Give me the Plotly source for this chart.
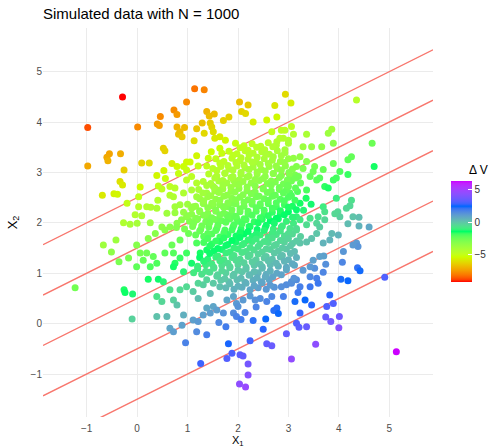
import numpy as np
import plotly.graph_objects as go

# ---------------- data ----------------
# upper-left region (orange / yellow points)
ul_x1 = [-0.29,-0.98,0.01,1.14,1.33,0.98,0.73,0.79,0.46,0.40,
         0.44,0.79,0.94,0.82,1.38,1.43,1.53,1.29,1.18,1.45,
         1.48,1.51,1.33,1.71,1.82,1.13,1.64,1.75,1.54,2.03,
         0.52,0.55,-0.55,-0.60,-0.58,-0.33,-0.98,-0.26,-0.34,-0.29,
         -0.69,-0.46,-0.39,0.09,0.24,0.39,0.56,0.53,0.06,0.03,
         -0.20,0.03,0.19,0.27,0.39,-0.04,0.09,-0.27,-0.14,0.00,
         0.26,0.41,0.42,0.49,0.65,0.75,0.65,0.72,0.59,0.75,
         0.79,0.49,0.65,0.75,0.85,0.98,1.05,1.18,1.21,1.38,
         1.41,0.79,0.92,0.82,0.98,1.47,1.64,1.68,0.98,1.08,
         1.18,1.31,0.92,1.08,1.18,1.38,1.51,1.64,1.78,1.91,
         1.11,1.31,1.51,1.71,1.91,0.98,1.18,1.38,1.58,1.78,1.97]
ul_x2 = [4.50,3.89,3.90,4.66,4.64,4.40,4.24,4.15,4.11,3.96,
         3.93,3.90,3.89,3.76,4.21,4.12,4.16,3.98,3.87,3.98,
         3.90,3.81,3.78,4.03,4.10,3.63,3.71,3.64,3.68,4.40,
         3.48,3.43,3.37,3.30,3.23,3.37,3.13,3.05,2.82,2.75,
         2.55,2.58,2.57,3.19,3.19,2.94,2.88,3.04,2.71,2.52,
         2.39,2.32,2.32,2.31,2.29,2.16,2.14,2.00,1.97,1.99,
         2.00,2.45,2.73,2.67,2.72,2.69,2.55,2.52,2.19,2.20,
         1.99,1.92,1.92,2.32,2.36,3.21,3.21,3.33,3.13,3.13,
         3.28,3.12,3.12,2.98,3.05,3.41,3.48,3.38,2.85,2.92,
         2.79,2.82,2.59,2.65,2.52,2.59,2.72,2.65,2.79,2.85,
         2.32,2.39,2.36,2.32,2.39,2.12,2.06,2.12,2.06,2.16,2.09]
ul_dv = [-9.23,-8.7,-7.8,-8.2,-7.9,-7.8,-7.75,-7.5,-7.8,-7.5,
         -7.4,-7.0,-6.85,-6.7,-7.0,-6.8,-6.8,-6.7,-6.6,-6.5,
         -6.3,-6.1,-6.2,-6.35,-6.4,-6.1,-5.8,-5.5,-5.8,-6.8,
         -6.4,-6.3,-7.3,-7.2,-7.0,-7.1,-7.2,-6.4,-6.0,-5.8,
         -5.8,-5.6,-5.5,-6.3,-6.1,-5.5,-5.2,-5.5,-5.4,-5.0,
         -5.0,-4.6,-4.4,-4.35,-4.2,-4.4,-4.2,-4.3,-4.1,-4.0,
         -3.7,-4.5,-5.0,-4.85,-4.8,-4.6,-4.45,-4.3,-3.8,-3.65,
         -3.2,-3.35,-3.2,-3.9,-3.85,-5.45,-5.4,-5.5,-5.0,-4.9,
         -5.15,-5.45,-5.3,-5.1,-5.1,-5.35,-5.3,-5.1,-4.7,-4.75,
         -4.4,-4.35,-4.25,-4.2,-3.85,-3.8,-3.95,-3.65,-3.8,-3.8,
         -3.5,-3.45,-3.2,-2.95,-2.85,-3.3,-2.95,-2.85,-2.55,-2.55,-2.2]

# lower-left region (green / teal / blue points)
ll_x1 = [-1.23,-0.67,-0.51,-0.42,-0.36,-0.26,-0.24,-0.09,-0.10,-0.17,
         -0.01,0.06,-0.01,0.22,0.36,0.55,0.19,0.32,0.39,0.55,
         0.72,0.75,0.26,0.12,0.22,0.42,0.52,0.72,0.92,0.85,
         0.98,1.08,0.69,0.85,1.02,1.18,1.25,1.38,0.39,0.49,
         0.65,0.72,0.79,0.39,0.59,0.92,0.85,0.98,1.11,1.21,
         1.31,1.21,0.65,0.72,0.89,1.11,1.21,1.31,1.18,1.38,
         0.96,1.26,1.51,1.58,1.71,1.45,1.38,1.51,1.64,1.76,
         1.81,1.88,1.78,2.04,2.03,1.91,1.97,1.78,1.91,1.97]
ll_x2 = [0.71,1.56,1.42,1.66,1.23,0.67,0.62,0.59,0.09,1.30,
         1.13,1.40,1.56,1.69,1.79,1.86,1.40,1.33,1.20,1.40,
         1.40,1.20,1.13,1.26,0.88,0.88,0.83,1.13,1.03,1.30,
         1.40,1.20,1.56,1.66,1.79,1.60,1.40,1.46,0.54,0.44,
         0.67,0.47,0.37,0.14,0.14,0.17,0.67,0.73,0.64,0.50,
         0.77,0.80,-0.09,-0.16,-0.03,0.07,0.04,0.17,-0.16,-0.22,
         -0.38,-0.79,0.34,0.27,0.21,0.60,0.87,0.80,0.73,-0.06,
         -0.40,-0.59,-0.69,-0.62,-1.20,0.54,0.40,0.47,0.21,0.14]
ll_dv = [-2.65,-3.8,-3.35,-3.75,-2.8,-1.6,-1.5,-1.25,-0.3,-2.8,
         -2.25,-2.75,-3.1,-3.15,-3.2,-3.2,-2.6,-2.35,-2.0,-2.25,
         -2.1,-1.65,-2.0,-2.4,-1.55,-1.35,-1.15,-1.55,-1.15,-1.75,
         -1.8,-1.3,-2.45,-2.45,-2.55,-2.0,-1.55,-1.55,-0.7,-0.4,
         -0.7,-0.25,0.05,0.1,0.3,0.6,-0.5,-0.5,-0.15,0.2,
         -0.2,-0.4,0.85,1.05,0.95,1.0,1.15,1.0,1.5,1.85,
         1.75,2.85,0.85,1.05,1.3,0.25,-0.35,-0.1,0.15,1.9,
         2.6,3.05,3.15,3.3,4.45,0.85,1.15,0.85,1.5,1.7]

# lower-right region (blue / purple points)
lr_x1 = [5.14,4.91,3.99,3.86,4.35,4.38,4.28,4.09,4.07,3.70,
         3.74,3.69,4.37,4.42,4.04,4.18,3.82,3.52,3.56,3.59,
         3.43,3.43,3.16,3.23,3.19,3.13,3.06,2.77,2.71,2.55,
         2.50,3.16,3.21,3.36,3.74,3.84,4.01,4.00,2.96,3.54,
         3.06,2.57,2.67,2.24,2.10,2.20,2.20,2.15,2.90,2.86,
         2.96,3.06,3.11,2.69,2.77,2.86,2.96,2.67,2.57,2.44,
         2.34,2.24,2.10,2.00,1.38,1.45,3.56,3.46,3.36,3.23,
         3.62,3.49,3.43,3.29,3.82,3.69,3.33,3.46,3.23,3.76,
         3.89,2.14,2.30,2.06,2.36,1.62,0.69,0.85,0.89,2.80]
lr_x2 = [-0.56,0.92,1.76,1.79,1.60,1.53,1.56,1.43,1.22,1.34,
         1.18,1.02,1.11,1.05,0.88,0.85,0.57,1.10,0.90,0.80,
         0.93,0.73,0.87,0.73,0.62,0.44,0.80,0.31,0.26,0.09,
         -0.11,0.01,-0.07,-0.06,0.13,0.04,0.14,-0.08,-0.20,-0.41,
         -0.70,-0.40,-0.44,-0.34,-0.64,-0.80,-1.02,-1.26,0.54,0.73,
         0.77,0.83,0.90,0.93,1.00,0.97,1.07,0.54,0.44,0.50,
         0.47,0.55,0.47,0.34,0.31,0.21,1.79,1.69,1.62,1.60,
         1.33,1.26,1.13,1.06,1.66,1.60,0.47,0.37,0.21,0.34,
         0.40,0.22,0.06,0.08,0.33,0.02,3.18,3.81,3.71,0.20]
lr_dv = [6.36,3.1,0.5,0.3,1.15,1.3,1.15,1.25,1.65,1.0,
         1.4,1.65,2.15,2.35,2.3,2.5,2.7,1.4,1.8,2.0,
         1.6,2.0,1.5,1.8,2.0,2.3,1.5,2.2,2.2,2.4,
         2.7,3.1,3.3,3.5,3.5,3.8,3.7,4.2,3.4,4.4,
         4.5,3.4,3.55,2.9,3.4,3.8,4.2,4.7,1.8,1.4,
         1.45,1.4,1.3,0.85,0.8,0.9,0.8,1.6,1.7,1.45,
         1.4,1.15,1.15,1.3,0.75,1.05,0.0,0.1,0.1,0.05,
         0.95,0.95,1.15,1.15,0.5,0.5,2.4,2.7,2.8,3.1,
         3.1,1.7,2.18,1.9,1.7,1.58,-5.7,-6.8,-6.55,2.4]

# upper-right region (yellow-green / green points)
ur_x1 = [2.94,3.05,2.73,2.77,2.20,2.07,2.15,2.57,2.30,4.35,
         4.66,4.70,3.89,3.86,3.79,3.66,3.36,3.29,3.46,3.06,
         3.10,2.93,3.00,3.23,3.36,3.29,3.89,3.69,3.52,3.49,
         3.43,3.56,3.62,3.72,3.79,3.89,3.95,4.02,4.18,4.25,
         4.18,3.36,3.35,3.23,3.13,3.03,2.96,3.95,4.25,4.22,
         4.15,4.28,3.98,4.02,3.92,4.40,4.40,4.60,4.18,3.69,
         3.72,3.59,3.72,3.56,3.62,3.43,3.36,3.16,3.23,3.10,
         3.03,3.16,2.67,2.86,2.90,3.00,2.83,2.77,2.93,3.10,
         3.16,3.13,3.03,3.00]
ur_x2 = [4.55,4.38,4.33,4.10,4.34,4.21,4.17,4.04,4.00,4.44,
         3.58,3.12,3.58,3.86,3.78,3.51,3.76,3.51,3.51,3.91,
         3.76,3.84,3.64,3.31,3.22,3.08,3.18,3.06,3.12,3.02,
         2.92,2.85,2.89,2.72,2.69,2.85,2.89,3.02,3.25,3.31,
         2.96,2.65,2.49,2.39,2.45,2.59,2.65,2.49,2.45,2.34,
         2.29,2.12,2.22,2.12,2.18,2.11,1.94,1.92,1.98,2.32,
         2.22,2.12,2.06,1.99,1.92,2.09,1.96,2.12,2.06,1.99,
         1.89,1.89,3.81,3.84,3.68,3.58,3.68,3.61,3.45,3.28,
         3.12,2.95,2.85,2.72]
ur_dv = [-6.15,-5.7,-5.9,-5.45,-6.5,-6.35,-6.2,-5.5,-5.7,-4.55,
         -2.5,-1.55,-3.25,-3.85,-3.75,-3.35,-4.15,-3.7,-3.55,-4.75,
         -4.4,-4.75,-4.3,-3.4,-3.05,-2.85,-2.5,-2.45,-2.7,-2.55,
         -2.4,-2.15,-2.15,-1.7,-1.6,-1.8,-1.85,-2.0,-2.3,-2.35,
         -1.75,-1.95,-1.6,-1.55,-1.8,-2.15,-2.35,-1.0,-0.65,-0.45,
         -0.45,0.05,-0.45,-0.2,-0.45,0.2,0.5,0.8,0.25,-0.95,
         -0.7,-0.65,-0.4,-0.4,-0.2,-0.75,-0.55,-1.1,-0.9,-0.9,
         -0.75,-0.6,-4.95,-4.8,-4.45,-4.15,-4.55,-4.45,-3.95,-3.45,
         -3.05,-2.8,-2.65,-2.45]

# dense core of the cloud, row by row (top to bottom)
core_x1 = [
    [1.95,2.12,2.28,2.45,2.60,2.76],
    [1.82,1.98,2.14,2.30,2.47,2.62,2.78,2.93],
    [1.56,1.72,1.88,2.04,2.20,2.36,2.52,2.68,2.84,3.00],
    [1.50,1.66,1.82,1.98,2.14,2.30,2.46,2.62,2.78,2.94,3.08],
    [1.42,1.58,1.74,1.90,2.06,2.22,2.38,2.54,2.70,2.86,3.02,3.20],
    [1.46,1.62,1.94,2.10,2.26,2.42,2.58,2.74,2.90,3.06,3.24],
    [1.22,1.54,1.70,1.86,2.02,2.18,2.34,2.50,2.66,2.82,3.18],
    [1.24,1.40,1.56,1.72,1.88,2.04,2.20,2.36,2.52,2.68,2.84,3.00],
    [1.00,1.16,1.32,1.48,1.64,1.80,1.96,2.12,2.28,2.44,2.60,2.76,2.92,3.08,3.45],
    [0.92,1.08,1.24,1.40,1.56,1.72,1.88,2.04,2.20,2.36,2.52,2.68,2.84,3.00,3.30],
    [0.88,1.04,1.20,1.36,1.52,1.68,1.84,2.00,2.16,2.32,2.48,2.64,2.80,2.96],
    [0.78,0.94,1.10,1.26,1.42,1.58,1.74,1.90,2.06,2.22,2.38,2.54,2.70,2.86],
    [1.16,1.32,1.48,1.64,1.80,1.96,2.12,2.28,2.44,2.60,2.76,2.92,3.08,3.24],
    [1.32,1.48,1.64,1.80,1.96,2.12,2.28,2.44,2.60,2.76,2.92,3.08],
    [1.52,1.68,1.84,2.00,2.16,2.32,2.48,2.64,2.80,2.96,3.12],
    [1.24,1.40,1.56,1.72,1.88,2.04,2.20,2.36,2.52,2.68,2.84,3.00,3.16],
    [1.20,1.36,1.52,1.68,1.84,2.00,2.16,2.32,2.48,2.64,2.80,2.96,3.12],
    [1.12,1.28,1.44,1.60,1.76,1.92,2.08,2.24,2.40,2.56],
    [1.66,1.82,1.98,2.14,2.30,2.46,2.62],
    [1.76,1.92,2.08,2.24,2.40,2.56,2.72],
]
core_x2 = [
    [3.58,3.53,3.57,3.52,3.59,3.54],
    [3.42,3.37,3.43,3.38,3.41,3.36,3.43,3.39],
    [3.27,3.22,3.28,3.23,3.26,3.21,3.27,3.24,3.22,3.27],
    [3.08,3.12,3.07,3.13,3.09,3.11,3.06,3.12,3.08,3.13,3.07],
    [2.97,2.93,2.98,2.92,2.96,2.93,2.97,2.92,2.98,2.94,2.96,2.92],
    [2.78,2.83,2.77,2.82,2.79,2.84,2.78,2.81,2.77,2.83,2.79],
    [2.66,2.63,2.67,2.62,2.68,2.64,2.61,2.67,2.63,2.66,2.62],
    [2.48,2.52,2.47,2.53,2.49,2.51,2.46,2.52,2.48,2.53,2.47,2.51],
    [2.37,2.33,2.38,2.34,2.36,2.32,2.38,2.33,2.37,2.34,2.38,2.32,2.36,2.33,2.37],
    [2.21,2.17,2.22,2.18,2.23,2.19,2.16,2.22,2.18,2.23,2.17,2.21,2.18,2.22,2.25],
    [2.06,2.03,2.08,2.02,2.07,2.04,2.08,2.03,2.06,2.02,2.07,2.04,2.08,2.03],
    [1.91,1.88,1.93,1.87,1.92,1.89,1.86,1.92,1.88,1.93,1.87,1.91,1.88,1.92],
    [1.76,1.73,1.78,1.72,1.77,1.74,1.78,1.73,1.76,1.72,1.77,1.74,1.78,1.73],
    [1.61,1.58,1.63,1.57,1.62,1.59,1.63,1.58,1.61,1.57,1.62,1.59],
    [1.44,1.47,1.42,1.48,1.43,1.46,1.42,1.47,1.44,1.48,1.43],
    [1.31,1.28,1.32,1.27,1.31,1.28,1.33,1.27,1.30,1.28,1.32,1.27,1.31],
    [1.14,1.17,1.12,1.16,1.13,1.17,1.12,1.16,1.13,1.17,1.14,1.12,1.16],
    [1.01,0.98,1.02,0.97,1.01,0.98,1.03,0.97,1.01,0.98],
    [0.86,0.83,0.87,0.82,0.86,0.83,0.87],
    [0.71,0.68,0.72,0.67,0.71,0.68,0.72],
]
core_dv = [
    [-5.21,-4.94,-4.86,-4.59,-4.58,-4.32],
    [-5.02,-4.76,-4.72,-4.46,-4.35,-4.10,-4.08,-3.85],
    [-4.98,-4.72,-4.68,-4.42,-4.32,-4.06,-4.02,-3.80,-3.60,-3.54],
    [-4.66,-4.58,-4.32,-4.28,-4.04,-3.92,-3.66,-3.62,-3.38,-3.32,-3.06],
    [-4.52,-4.28,-4.22,-3.94,-3.86,-3.64,-3.56,-3.30,-3.26,-3.02,-2.90,-2.64],
    [-4.10,-4.04,-3.60,-3.54,-3.32,-3.26,-2.98,-2.88,-2.64,-2.60,-2.34],
    [-4.10,-3.72,-3.64,-3.38,-3.34,-3.10,-2.88,-2.84,-2.60,-2.50,-2.06],
    [-3.72,-3.64,-3.38,-3.34,-3.10,-2.98,-2.72,-2.68,-2.44,-2.38,-2.10,-2.02],
    [-3.74,-3.50,-3.44,-3.20,-3.08,-2.84,-2.80,-2.54,-2.46,-2.24,-2.16,-1.88,-1.80,-1.58,-1.29],
    [-3.50,-3.26,-3.20,-2.96,-2.90,-2.66,-2.44,-2.40,-2.16,-2.10,-1.82,-1.74,-1.52,-1.44,-1.20],
    [-3.24,-3.02,-2.96,-2.68,-2.62,-2.40,-2.32,-2.06,-1.96,-1.72,-1.66,-1.44,-1.36,-1.10],
    [-3.04,-2.82,-2.76,-2.48,-2.42,-2.20,-1.98,-1.94,-1.70,-1.64,-1.36,-1.28,-1.06,-0.98],
    [-2.36,-2.14,-2.08,-1.80,-1.74,-1.52,-1.44,-1.18,-1.08,-0.84,-0.78,-0.56,-0.48,-0.22],
    [-1.90,-1.68,-1.62,-1.34,-1.28,-1.06,-0.98,-0.72,-0.62,-0.38,-0.32,-0.10],
    [-1.36,-1.26,-1.00,-0.96,-0.70,-0.60,-0.36,-0.30,-0.08,0.00,0.26],
    [-1.38,-1.16,-1.08,-0.82,-0.74,-0.52,-0.46,-0.18,-0.08,0.12,0.20,0.46,0.54],
    [-1.08,-0.98,-0.72,-0.64,-0.42,-0.34,-0.08,0.00,0.22,0.30,0.52,0.72,0.80],
    [-0.90,-0.68,-0.60,-0.34,-0.26,-0.04,0.02,0.30,0.38,0.60],
    [-0.06,0.16,0.24,0.50,0.58,0.80,0.88],
    [0.34,0.56,0.64,0.90,0.98,1.20,1.28],
]

# dense core, in-between rows (top to bottom)
mid_x1 = [
    [2.04,2.20,2.37,2.53,2.69],
    [1.90,2.06,2.22,2.38,2.55,2.70,2.86],
    [1.64,1.80,1.96,2.12,2.28,2.44,2.60,2.76,2.92],
    [1.58,1.74,1.90,2.06,2.22,2.38,2.54,2.70,2.86,3.01],
    [1.54,1.70,1.86,2.02,2.18,2.34,2.50,2.66,2.82,2.98,3.14],
    [1.38,1.54,1.70,1.86,2.02,2.18,2.34,2.50,2.66,2.82,2.98,3.14],
    [1.30,1.46,1.62,1.78,1.94,2.10,2.26,2.42,2.58,2.74,2.90,3.06],
    [1.32,1.48,1.64,1.80,1.96,2.12,2.28,2.44,2.60,2.76,2.92],
    [1.08,1.24,1.40,1.56,1.72,1.88,2.04,2.20,2.36,2.52,2.68,2.84,3.00,3.16],
    [1.00,1.16,1.32,1.48,1.64,1.80,1.96,2.12,2.28,2.44,2.60,2.76,2.92,3.08],
    [1.12,1.28,1.44,1.60,1.76,1.92,2.08,2.24,2.40,2.56,2.72,2.88],
    [1.24,1.40,1.56,1.72,1.88,2.04,2.20,2.36,2.52,2.68,2.84,3.00,3.16],
    [1.40,1.56,1.72,1.88,2.04,2.20,2.36,2.52,2.68,2.84,3.00,3.16],
    [1.44,1.60,1.76,1.92,2.08,2.24,2.40,2.56,2.72,2.88,3.04],
    [1.44,1.60,1.76,1.92,2.08,2.24,2.40,2.56,2.72,2.88,3.04],
    [1.32,1.48,1.64,1.80,1.96,2.12,2.28,2.44,2.60,2.76,2.92,3.08],
    [1.20,1.36,1.52,1.68,1.84,2.00,2.16,2.32,2.48,2.64],
    [1.58,1.74,1.90,2.06,2.22,2.38,2.54],
    [1.84,2.00,2.16,2.32,2.48,2.64],
]
mid_x2 = [
    [3.49,3.44,3.50,3.45,3.51],
    [3.34,3.29,3.35,3.30,3.36,3.31,3.33],
    [3.19,3.14,3.20,3.15,3.21,3.16,3.18,3.13,3.20],
    [3.04,2.99,3.05,3.00,3.06,3.01,3.03,2.98,3.05,3.00],
    [2.89,2.84,2.90,2.85,2.91,2.86,2.88,2.83,2.90,2.85,2.89],
    [2.74,2.69,2.75,2.70,2.76,2.71,2.73,2.68,2.75,2.70,2.74,2.69],
    [2.59,2.54,2.60,2.55,2.61,2.56,2.58,2.53,2.60,2.55,2.59,2.54],
    [2.44,2.39,2.45,2.40,2.46,2.41,2.43,2.38,2.45,2.40,2.44],
    [2.29,2.24,2.30,2.25,2.31,2.26,2.28,2.23,2.30,2.25,2.29,2.24,2.31,2.26],
    [2.14,2.09,2.15,2.10,2.16,2.11,2.13,2.08,2.15,2.10,2.14,2.09,2.16,2.11],
    [1.99,1.94,2.00,1.95,2.01,1.96,1.98,1.93,2.00,1.95,1.99,1.94],
    [1.84,1.79,1.85,1.80,1.86,1.81,1.83,1.78,1.85,1.80,1.84,1.79,1.86],
    [1.69,1.64,1.70,1.65,1.71,1.66,1.68,1.63,1.70,1.65,1.69,1.64],
    [1.54,1.49,1.55,1.50,1.56,1.51,1.53,1.48,1.55,1.50,1.54],
    [1.39,1.34,1.40,1.35,1.41,1.36,1.38,1.33,1.40,1.35,1.39],
    [1.24,1.19,1.25,1.20,1.26,1.21,1.23,1.18,1.25,1.20,1.24,1.19],
    [1.09,1.04,1.10,1.05,1.11,1.06,1.08,1.03,1.10,1.05],
    [0.94,0.89,0.95,0.90,0.96,0.91,0.93],
    [0.79,0.74,0.80,0.75,0.81,0.76],
]
mid_dv = [
    [-4.94,-4.68,-4.63,-4.37,-4.33],
    [-4.78,-4.52,-4.48,-4.22,-4.17,-3.92,-3.80],
    [-4.74,-4.48,-4.44,-4.18,-4.14,-3.88,-3.76,-3.50,-3.48],
    [-4.50,-4.24,-4.20,-3.94,-3.90,-3.64,-3.52,-3.26,-3.24,-2.99],
    [-4.24,-3.98,-3.94,-3.68,-3.64,-3.38,-3.26,-3.00,-2.98,-2.72,-2.64],
    [-4.10,-3.84,-3.80,-3.54,-3.50,-3.24,-3.12,-2.86,-2.84,-2.58,-2.50,-2.24],
    [-3.88,-3.62,-3.58,-3.32,-3.28,-3.02,-2.90,-2.64,-2.62,-2.36,-2.28,-2.02],
    [-3.56,-3.30,-3.26,-3.00,-2.96,-2.70,-2.58,-2.32,-2.30,-2.04,-1.96],
    [-3.50,-3.24,-3.20,-2.94,-2.90,-2.64,-2.52,-2.26,-2.24,-1.98,-1.90,-1.64,-1.62,-1.36],
    [-3.28,-3.02,-2.98,-2.72,-2.68,-2.42,-2.30,-2.04,-2.02,-1.76,-1.68,-1.42,-1.40,-1.14],
    [-2.86,-2.60,-2.56,-2.30,-2.26,-2.00,-1.88,-1.62,-1.60,-1.34,-1.26,-1.00],
    [-2.44,-2.18,-2.14,-1.88,-1.84,-1.58,-1.46,-1.20,-1.18,-0.92,-0.84,-0.58,-0.56],
    [-1.98,-1.72,-1.68,-1.42,-1.38,-1.12,-1.00,-0.74,-0.72,-0.46,-0.38,-0.12],
    [-1.64,-1.38,-1.34,-1.08,-1.04,-0.78,-0.66,-0.40,-0.38,-0.12,-0.04],
    [-1.34,-1.08,-1.04,-0.78,-0.74,-0.48,-0.36,-0.10,-0.08,0.18,0.26],
    [-1.16,-0.90,-0.86,-0.60,-0.56,-0.30,-0.18,0.08,0.10,0.36,0.44,0.70],
    [-0.98,-0.72,-0.68,-0.42,-0.38,-0.12,0.00,0.26,0.28,0.54],
    [-0.30,-0.04,0.00,0.26,0.30,0.56,0.68],
    [0.26,0.52,0.56,0.82,0.86,1.12],
]

# reference lines: X2 = slope * X1 + intercept
line_slope = 0.5
line_intercepts = [2.5, 1.5, 0.5, -0.5, -1.5]

x_ticks = [-1, 0, 1, 2, 3, 4, 5]
y_ticks = [-1, 0, 1, 2, 3, 4, 5]
cbar_ticks = [-5, 0, 5]

# ---------------- assemble ----------------
def flat(rows):
    return [v for r in rows for v in r]

x1 = ul_x1 + ll_x1 + lr_x1 + ur_x1 + flat(core_x1) + flat(mid_x1)
x2 = ul_x2 + ll_x2 + lr_x2 + ur_x2 + flat(core_x2) + flat(mid_x2)
dv = ul_dv + ll_dv + lr_dv + ur_dv + flat(core_dv) + flat(mid_dv)
for name, a, b, c in [("ul", ul_x1, ul_x2, ul_dv), ("ll", ll_x1, ll_x2, ll_dv),
                      ("lr", lr_x1, lr_x2, lr_dv), ("ur", ur_x1, ur_x2, ur_dv)]:
    if not (len(a) == len(b) == len(c)):
        raise SystemExit(f"length mismatch {name}: {len(a)} {len(b)} {len(c)}")
for nm, A, Bq, C in [("core", core_x1, core_x2, core_dv), ("mid", mid_x1, mid_x2, mid_dv)]:
    for i, (a, b, c) in enumerate(zip(A, Bq, C)):
        if not (len(a) == len(b) == len(c)):
            raise SystemExit(f"{nm} row {i} mismatch {len(a)} {len(b)} {len(c)}")

# ---------------- colour scale: rainbow(5) interpolated in CIE Lab ----------------
anchors = ["#FF0000", "#CCFF00", "#00FF66", "#0066FF", "#CC00FF"]

def hex_to_rgb(h):
    h = h.lstrip("#")
    return np.array([int(h[i:i + 2], 16) for i in (0, 2, 4)], dtype=float) / 255.0

M = np.array([[0.4124564, 0.3575761, 0.1804375],
              [0.2126729, 0.7151522, 0.0721750],
              [0.0193339, 0.1191920, 0.9503041]])
Minv = np.linalg.inv(M)
WHITE = np.array([0.95047, 1.0, 1.08883])

def rgb_to_lab(c):
    lin = np.where(c <= 0.04045, c / 12.92, ((c + 0.055) / 1.055) ** 2.4)
    xyz = M @ lin / WHITE
    f = np.where(xyz > 216 / 24389, np.cbrt(xyz), (24389 / 27 * xyz + 16) / 116)
    return np.array([116 * f[1] - 16, 500 * (f[0] - f[1]), 200 * (f[1] - f[2])])

def lab_to_rgb(lab):
    L_, a, b = lab
    fy = (L_ + 16) / 116
    fx = fy + a / 500
    fz = fy - b / 200
    f = np.array([fx, fy, fz])
    xyz = np.where(f ** 3 > 216 / 24389, f ** 3, (116 * f - 16) / (24389 / 27)) * WHITE
    lin = np.clip(Minv @ xyz, 0, 1)
    c = np.where(lin <= 0.0031308, 12.92 * lin, 1.055 * lin ** (1 / 2.4) - 0.055)
    return np.clip(c, 0, 1)

labs = [rgb_to_lab(hex_to_rgb(h)) for h in anchors]
colorscale = []
steps = 12
nseg = len(anchors) - 1
for s in range(nseg):
    for k in range(steps):
        if s > 0 and k == 0:
            continue
        t = k / (steps - 1)
        c = lab_to_rgb(labs[s] * (1 - t) + labs[s + 1] * t)
        pos = (s + t) / nseg
        colorscale.append([pos, "rgb(%d,%d,%d)" % tuple(np.round(c * 255).astype(int))])
colorscale[-1][0] = 1.0

# ---------------- figure ----------------
XR = [-1.867, 5.867]
YR = [-1.853, 5.867]
L, R, T, B = 43, 58, 28, 30
W, H = 491, 447
pw, ph = W - L - R, H - T - B

fig = go.Figure()
for b in line_intercepts:
    fig.add_trace(go.Scatter(
        x=XR, y=[line_slope * XR[0] + b, line_slope * XR[1] + b],
        mode="lines", line=dict(color="#F8766D", width=1.4),
        hoverinfo="skip", showlegend=False))

fig.add_trace(go.Scatter(
    x=x1, y=x2, mode="markers", showlegend=False,
    marker=dict(
        size=7, color=dv, colorscale=colorscale,
        cmin=min(dv), cmax=max(dv), line=dict(width=0),
        colorbar=dict(
            thickness=21, thicknessmode="pixels",
            len=101, lenmode="pixels",
            x=(451 - L) / pw, xanchor="left",
            y=(H - B - 231.5) / ph, yanchor="middle",
            tickmode="array", tickvals=cbar_ticks,
            ticks="inside", ticklen=4, tickwidth=1, tickcolor="white",
            tickfont=dict(size=10, color="#333333", family="Liberation Sans"),
            outlinewidth=0, xpad=0, ypad=0,
        ),
    ),
))

fig.add_annotation(
    text="Δ V", xref="paper", yref="paper",
    x=(467 - L) / pw, xanchor="left",
    y=(H - B - 170) / ph, yanchor="middle",
    showarrow=False, font=dict(size=12, color="black", family="Liberation Sans"))

# x-axis title placed at its pixel position under the tick labels
fig.add_annotation(
    text="X<sub>1</sub>", xref="paper", yref="paper",
    x=0.5, xanchor="center",
    y=(H - B - 440.5) / ph, yanchor="middle",
    showarrow=False, font=dict(size=11, color="black", family="Liberation Sans"))

axis_common = dict(
    showgrid=True, gridcolor="#EBEBEB", gridwidth=1, zeroline=False,
    showline=False, ticks="", tickmode="array",
    tickfont=dict(size=10, color="#4D4D4D", family="Liberation Sans"),
)
fig.update_layout(
    width=W, height=H,
    margin=dict(l=L, r=R, t=T, b=B, autoexpand=False),
    paper_bgcolor="white", plot_bgcolor="white",
    font=dict(family="Liberation Sans"),
    title=dict(text="Simulated data with N = 1000", x=L / W, xanchor="left",
               xref="container", y=1 - 14 / H, yanchor="middle", yref="container",
               font=dict(size=15, color="black")),
    xaxis=dict(range=XR, tickvals=x_ticks, automargin=False, ticklabelstandoff=4,
               **axis_common),
    yaxis=dict(range=YR, tickvals=y_ticks, automargin=False,
               title=dict(text="X<sub>2</sub>", standoff=10,
                          font=dict(size=13, color="black")),
               **axis_common),
)

fig.write_html("out.html")
